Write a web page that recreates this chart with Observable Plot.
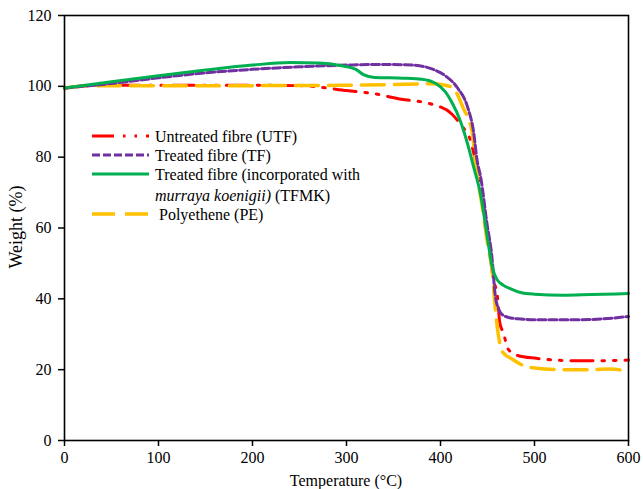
<!DOCTYPE html>
<html>
<head>
<meta charset="utf-8">
<script src="https://cdn.jsdelivr.net/npm/d3@7"></script>
<script src="https://cdn.jsdelivr.net/npm/@observablehq/plot@0.6"></script>
<style>
  body { margin: 0; background: #fff; }
  #wrap { position: relative; width: 643px; height: 489px; }
  #wrap svg text { font-family: 'Liberation Serif', 'Times New Roman', serif !important; font-size: 16px !important; }
  #wrap svg text.ylab { font-size: 18px !important; }
  #legend { position: absolute; left: 0; top: 0; pointer-events: none; }
</style>
</head>
<body>
<div id="wrap"></div>
<script>
// Untreated fibre (UTF)
const utfT = [0, 30, 100, 200, 250, 270, 300, 330, 355, 390, 412, 422, 432, 440, 446, 451, 456, 461, 463, 467, 472, 482, 502, 530, 560, 600];
const utfW = [99.5, 100.3, 100.3, 100.3, 100.2, 99.8, 98.8, 97.9, 96.5, 95, 92.2, 89, 84.6, 75, 65, 56, 46, 39.6, 33.4, 30.3, 25.8, 24, 23.2, 22.6, 22.5, 22.7];
// Treated fibre (TF)
const tfT = [0, 50, 100, 150, 200, 250, 300, 340, 370, 390, 405, 418, 429, 435, 439, 443, 449, 455, 458, 462, 467, 475, 485, 500, 550, 600];
const tfW = [99.5, 100.8, 102.4, 103.8, 104.8, 105.5, 106, 106.2, 106, 105, 103, 99.6, 94, 87.5, 79, 74, 62, 51, 41.5, 37, 35.3, 34.6, 34.3, 34.1, 34.1, 35];
// Treated fibre with murraya koenigii (TFMK)
const tfmkT = [0, 50, 100, 150, 200, 240, 270, 295, 310, 318, 330, 360, 380, 395, 405, 413, 420, 428, 435, 443, 450, 455, 460, 467, 475, 485, 500, 530, 560, 600];
const tfmkW = [99.5, 101.3, 103.0, 104.6, 106.0, 106.7, 106.6, 105.8, 104.8, 103.3, 102.5, 102.3, 102.0, 100.8, 98.5, 95, 91, 84.5, 77.5, 69, 57, 49, 45.5, 43.8, 42.8, 41.8, 41.3, 41.0, 41.2, 41.5];
// Polyethene (PE)
const peT = [0, 30, 100, 200, 300, 350, 390, 405, 413, 424, 434, 437, 445, 451, 455, 458, 462, 466, 476, 490, 500, 530, 560, 580, 600];
const peW = [99.5, 100.2, 100.2, 100.2, 100.3, 100.5, 100.7, 100.3, 99.6, 94, 86.6, 79, 65, 54, 48, 38, 29, 25, 23, 21, 20.5, 20, 20, 20.2, 19.5];

const seriesNames = ["Untreated fibre (UTF)", "Treated fibre (TF)", "TFMK", "Polyethene (PE)"];
const xTicks = [0, 100, 200, 300, 400, 500, 600];
const yTicks = [0, 20, 40, 60, 80, 100, 120];
const xLabel = "Temperature (°C)";
const yLabel = "Weight (%)";

const toRows = (T, W) => T.map((t, i) => ({t, w: W[i]}));
const utf = toRows(utfT, utfW), tf = toRows(tfT, tfW), tfmk = toRows(tfmkT, tfmkW), pe = toRows(peT, peW);

const styles = {
  utf: {stroke: "#ff0000", strokeWidth: 3, strokeDasharray: "22,9,2.5,9,2.5,9"},
  tf: {stroke: "#7030a0", strokeWidth: 3, strokeDasharray: "8,3"},
  tfmk: {stroke: "#00b050", strokeWidth: 3},
  pe: {stroke: "#ffc000", strokeWidth: 3.5, strokeDasharray: "23,10"}
};

const font = "'Liberation Serif', 'Times New Roman', serif";

const chart = Plot.plot({
  width: 643,
  height: 489,
  marginLeft: 64,
  marginRight: 15,
  marginTop: 15,
  marginBottom: 49,
  style: {fontFamily: font, fontSize: "16px", color: "#000", background: "#fff"},
  x: {domain: [0, 600], label: null},
  y: {domain: [0, 120], label: null},
  marks: [
    Plot.line(utf, {x: "t", y: "w", curve: "monotone-x", ...styles.utf}),
    Plot.line(pe, {x: "t", y: "w", curve: "monotone-x", ...styles.pe}),
    Plot.line(tf, {x: "t", y: "w", curve: "monotone-x", ...styles.tf}),
    Plot.line(tfmk, {x: "t", y: "w", curve: "monotone-x", ...styles.tfmk}),
    Plot.frame({stroke: "#000", strokeWidth: 1.6}),
    Plot.axisX({ticks: xTicks, tickSize: 6, tickPadding: 5, strokeWidth: 1.5, fontSize: 16, label: null}),
    Plot.axisY({ticks: yTicks, tickSize: 6, tickPadding: 7, strokeWidth: 1.5, fontSize: 16, label: null})
  ]
});
document.getElementById("wrap").appendChild(chart);

// Overlay: axis titles and legend
const lg = d3.select("#wrap").append("svg").attr("id", "legend").attr("width", 643).attr("height", 489)
  .style("font-family", font).style("font-size", "16px");
lg.append("text").attr("x", 346).attr("y", 480).attr("dy", "0.35em").attr("text-anchor", "middle").text(xLabel);
lg.append("text").attr("class", "ylab").attr("transform", "translate(16,227) rotate(-90)").attr("dy", "0.35em").attr("text-anchor", "middle").text(yLabel);

const rows = [
  {key: "utf", y: 136, label: seriesNames[0]},
  {key: "tf", y: 155, label: seriesNames[1]},
  {key: "tfmk", y: 174, label: null},
  {key: "pe", y: 214, label: seriesNames[3]}
];
rows.forEach(r => {
  const s = styles[r.key];
  lg.append("line").attr("x1", 92).attr("x2", 149).attr("y1", r.y).attr("y2", r.y)
    .attr("stroke", s.stroke).attr("stroke-width", s.strokeWidth)
    .attr("stroke-dasharray", s.strokeDasharray || null);
  if (r.label) {
    lg.append("text").attr("x", r.key === "pe" ? 159 : 155).attr("y", r.y).attr("dy", "0.35em").text(r.label);
  }
});
lg.append("text").attr("x", 155).attr("y", 174).attr("dy", "0.35em").text("Treated fibre (incorporated with");
const t2 = lg.append("text").attr("x", 155).attr("y", 195).attr("dy", "0.35em");
t2.append("tspan").attr("font-style", "italic").text("murraya koenigii)");
t2.append("tspan").text(" (TFMK)");
</script>
</body>
</html>
